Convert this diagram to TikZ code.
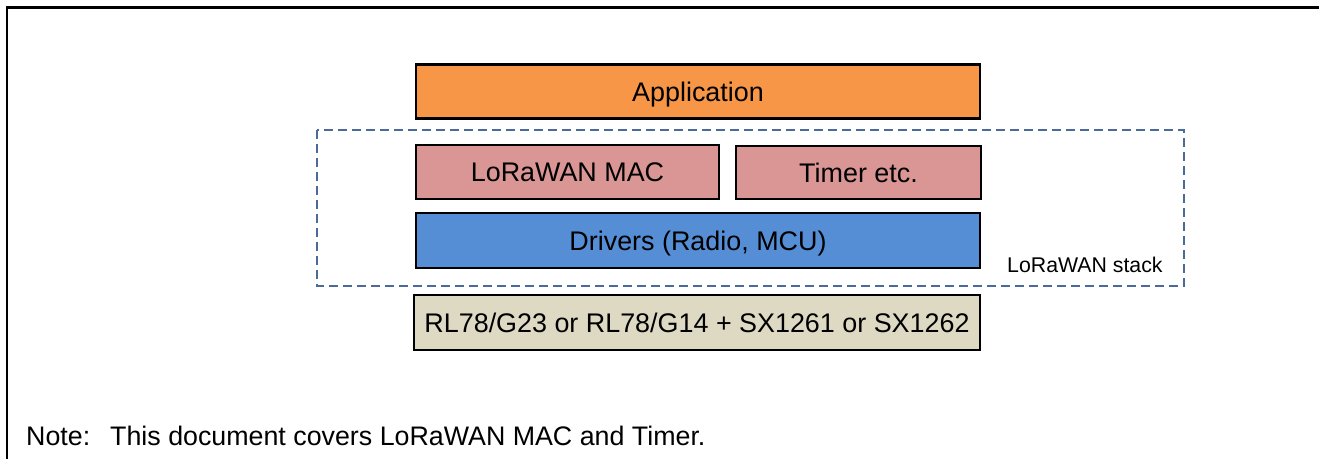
\documentclass[tikz,border=0pt]{standalone}
\usepackage{fontspec}
\setmainfont{Liberation Sans}
\definecolor{appcol}{RGB}{247,150,70}
\definecolor{maccol}{RGB}{217,150,148}
\definecolor{drvcol}{RGB}{85,142,213}
\definecolor{hwcol}{RGB}{221,217,195}
\definecolor{dashcol}{RGB}{74,106,154}
\tikzset{
  layerbox/.style={draw=black, line width=2.3pt, rectangle, inner sep=0pt,
    font=\fontsize{26.9}{30}\selectfont, text=black, text height=19.3pt, text depth=0pt},
  stackframe/.style={draw=dashcol, line width=1.6pt, dash pattern=on 9pt off 5pt},
  plainlabel/.style={inner sep=0pt, text=black}
}
\begin{document}
\begin{tikzpicture}[x=1pt,y=-1pt]
\useasboundingbox (0,0) rectangle (1319,459);
% frame
\draw[line width=2.6pt] (1319,7.5) -- (7,7.5) -- (7,459);
% dashed stack region
\draw[stackframe] (317,130) rectangle (1184,286);
\node[plainlabel, anchor=base west, font=\fontsize{21.3}{24}\selectfont] (stack) at (1007,272) {LoRaWAN stack};
% layers
\node[layerbox, fill=appcol, minimum width=564pt, minimum height=54pt] (app) at (698,91.5) {Application};
\node[layerbox, fill=maccol, minimum width=303pt, minimum height=54pt] (mac) at (567.5,172) {LoRaWAN MAC};
\node[layerbox, fill=maccol, minimum width=245pt, minimum height=53pt] (timer) at (858.5,172.5) {Timer etc.};
\node[layerbox, fill=drvcol, minimum width=564pt, minimum height=55pt] (drv) at (698,240.5) {Drivers (Radio, MCU)};
\node[layerbox, fill=hwcol, minimum width=566pt, minimum height=55pt] (hw) at (697,322.5) {RL78/G23 or RL78/G14 + SX1261 or SX1262};
% note
\node[plainlabel, anchor=base west, font=\fontsize{26.8}{30}\selectfont] (notelbl) at (26,445) {Note:};
\node[plainlabel, anchor=base west, font=\fontsize{26.8}{30}\selectfont] (notetxt) at (110,445) {This document covers LoRaWAN MAC and Timer.};
\end{tikzpicture}
\end{document}
